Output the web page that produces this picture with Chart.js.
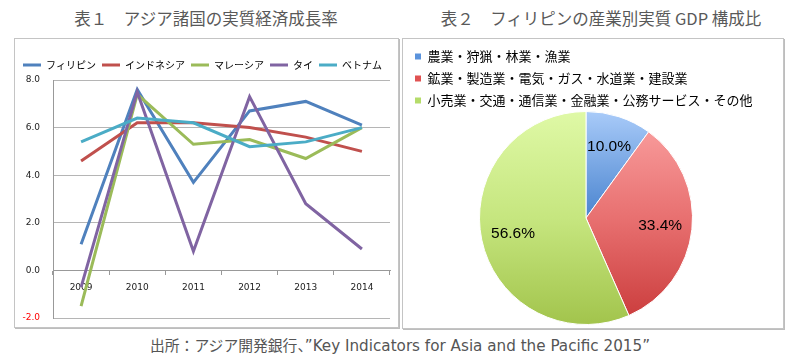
<!DOCTYPE html>
<html><head><meta charset="utf-8">
<script src="https://cdn.jsdelivr.net/npm/chart.js@4"></script>
<style>
body{margin:0;width:800px;height:360px;background:#fff;position:relative;overflow:hidden;font-family:"Noto Sans CJK JP",sans-serif;}
.title{position:absolute;top:8px;font-size:16.5px;color:#595959;white-space:nowrap;line-height:20px;}
.box{position:absolute;border:1px solid #c4c4c4;box-shadow:1px 1px 0 #bdbdbd;background:#fff;}
canvas{display:block;}
#foot{position:absolute;top:335px;left:0;width:800px;text-align:center;font-size:14.8px;line-height:20px;color:#555;white-space:nowrap;}
#foot .lat{font-family:"DejaVu Sans",sans-serif;font-size:15.2px;}
</style></head>
<body>
<div class="title" style="left:0;width:412px;text-align:center;">表１　アジア諸国の実質経済成長率</div>
<div class="title" style="left:402px;width:398px;text-align:center;">表２　フィリピンの産業別実質 GDP 構成比</div>
<div class="box" style="left:14px;top:38px;width:383px;height:288px;"><canvas id="c1" width="383" height="288"></canvas></div>
<div class="box" style="left:402px;top:38px;width:380px;height:289px;"><canvas id="c2" width="380" height="289"></canvas></div>
<div id="foot">出所：アジア開発銀行、<span class="lat">”Key Indicators for Asia and the Pacific 2015”</span></div>
<script>
// ---- Chart 1 data ----
const years = ['2009', '2010', '2011', '2012', '2013', '2014'];
const seriesNames = ['フィリピン', 'インドネシア', 'マレーシア', 'タイ', 'ベトナム'];
const philippines = [1.1, 7.6, 3.7, 6.7, 7.1, 6.1];
const indonesia   = [4.6, 6.2, 6.2, 6.0, 5.6, 5.0];
const malaysia    = [-1.5, 7.4, 5.3, 5.5, 4.7, 6.0];
const thailand    = [-0.7, 7.5, 0.8, 7.3, 2.8, 0.9];
const vietnam     = [5.4, 6.4, 6.2, 5.2, 5.4, 6.0];
const yMin = -2, yMax = 8, yStep = 2;

// ---- Chart 2 data ----
const pieLabels = ['農業・狩猟・林業・漁業', '鉱業・製造業・電気・ガス・水道業・建設業', '小売業・交通・通信業・金融業・公務サービス・その他'];
const pieValues = [10.0, 33.4, 56.6];

const lineColors = ['#4F81BD', '#C0504D', '#9BBB59', '#8064A2', '#4BACC6'];
const allSeries = [philippines, indonesia, malaysia, thailand, vietnam];

new Chart(document.getElementById('c1'), {
  type: 'line',
  data: {
    labels: years,
    datasets: allSeries.map((s, i) => ({
      label: seriesNames[i], data: s,
      borderColor: lineColors[i], backgroundColor: lineColors[i],
      borderWidth: 3, pointRadius: 0, tension: 0, order: allSeries.length - i
    }))
  },
  options: {
    responsive: false, animation: false, events: [],
    layout: { padding: { top: -3, right: 8, bottom: 9, left: 0 } },
    plugins: {
      tooltip: { enabled: false },
      legend: {
        position: 'top',
        labels: {
          boxWidth: 18, boxHeight: 3, padding: 6, color: '#000',
          font: { size: 10, family: '"Noto Sans CJK JP"' },
          sort: (a, b) => a.datasetIndex - b.datasetIndex,
          generateLabels: (chart) => Chart.defaults.plugins.legend.labels.generateLabels(chart).map(l => Object.assign(l, { lineWidth: 0 }))
        }
      }
    },
    scales: {
      x: {
        position: { y: 0 },
        offset: true,
        grid: { drawOnChartArea: false, tickLength: 4, color: '#999', offset: true },
        border: { color: '#999' },
        ticks: { font: { size: 9, family: 'DejaVu Sans' }, color: '#222', padding: 8 },
        afterFit: s => { s.height = 0; }
      },
      y: {
        min: yMin, max: yMax,
        ticks: {
          stepSize: yStep, padding: 13,
          callback: v => Number(v).toFixed(1),
          color: c => c.tick.value === -2 ? '#ff0000' : '#222',
          font: { size: 9, family: 'DejaVu Sans' }
        },
        grid: { color: '#b5b5b5', drawTicks: false },
        border: { color: '#999' },
        afterFit: s => { s.width = 38; s.paddingTop = 41; s.paddingBottom = 0; }
      }
    }
  }
});

const pieSolid = ['#5b93dc', '#e05252', '#b5dc6a'];
const pieStops = [
  [[0, '#a9cbf9'], [0.5, '#4a84cf'], [1, '#3a6fb8']],
  [[0, '#fba3a3'], [0.5, '#e87070'], [1, '#c93a3a']],
  [[0, '#dff9a6'], [0.5, '#c6e67f'], [1, '#a2c44c']]
];
function pieFill(ctx) {
  const chart = ctx.chart; const area = chart.chartArea;
  if (!area) return pieSolid[ctx.dataIndex];
  const g = chart.ctx.createLinearGradient(0, area.top, 0, area.bottom);
  pieStops[ctx.dataIndex].forEach(s => g.addColorStop(s[0], s[1]));
  return g;
}
const pieLabelPlugin = {
  id: 'pieLabels',
  afterDatasetsDraw(chart) {
    const ctx = chart.ctx; const meta = chart.getDatasetMeta(0);
    ctx.save();
    ctx.font = '15.5px "Liberation Sans"'; ctx.fillStyle = '#000';
    ctx.textAlign = 'center'; ctx.textBaseline = 'middle';
    meta.data.forEach((arc, i) => {
      const p = arc.getProps(['x', 'y', 'startAngle', 'endAngle', 'outerRadius'], true);
      const a = (p.startAngle + p.endAngle) / 2; const r = p.outerRadius * 0.7;
      ctx.fillText(pieValues[i].toFixed(1) + '%', p.x + Math.cos(a) * r, p.y + Math.sin(a) * r);
    });
    ctx.restore();
  }
};
new Chart(document.getElementById('c2'), {
  type: 'pie',
  data: { labels: pieLabels, datasets: [{ data: pieValues, backgroundColor: pieFill, borderColor: '#fff', borderWidth: 1 }] },
  options: {
    responsive: false, animation: false, events: [],
    layout: { padding: { top: 2, left: 3, right: 17, bottom: 3 } },
    plugins: {
      tooltip: { enabled: false },
      legend: {
        position: 'top', align: 'start', maxHeight: 70,
        labels: {
          boxWidth: 6, boxHeight: 6, padding: 9, color: '#000',
          font: { size: 13, family: '"Noto Sans CJK JP"' },
          generateLabels: (chart) => Chart.overrides.pie.plugins.legend.labels.generateLabels(chart).map((l, i) => Object.assign(l, { fillStyle: pieSolid[i], lineWidth: 0 }))
        }
      }
    }
  },
  plugins: [pieLabelPlugin]
});
</script>
</body></html>
